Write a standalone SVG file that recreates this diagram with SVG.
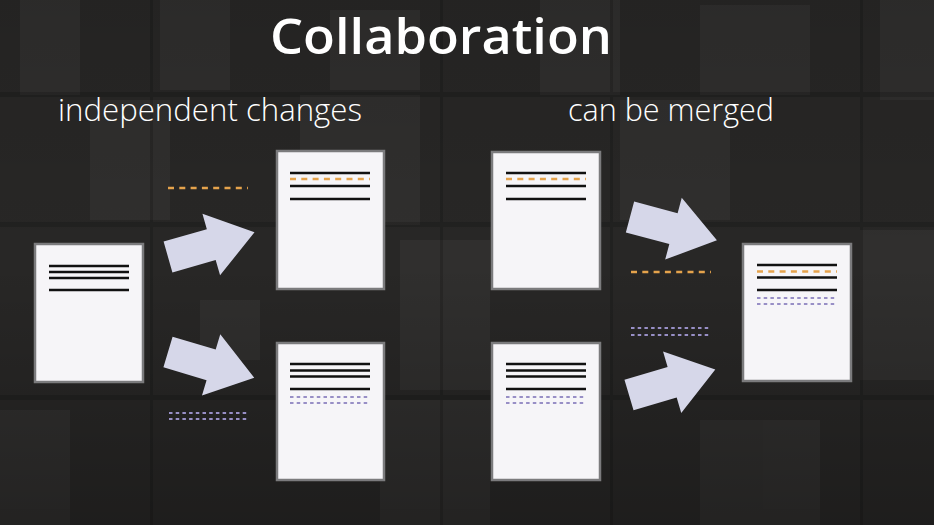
<svg xmlns="http://www.w3.org/2000/svg" width="934" height="525" viewBox="0 0 934 525">
<style>
.doc{fill:#f6f5f8;stroke:#7b7b7d;stroke-width:2.5}
.ln{stroke:#111;stroke-width:2.5}
.or{stroke:#e5a34c;stroke-width:2.5;stroke-dasharray:6 5.3}
.pu{stroke:#988fc6;stroke-width:2.2;stroke-dasharray:3.5 3.2}
.arr{fill:#d6d7e9}
.bk{fill:#fff}
.dk{fill:#000}
text{fill:#fff}
</style>
<defs>
<path id="arrow" class="arr" d="M0,-16 L45,-16 L45,-32 L90,0 L45,32 L45,16 L0,16 Z"/>
<linearGradient id="vg" x1="0" y1="0" x2="0" y2="1">
<stop offset="0" stop-color="#000" stop-opacity="0.1"/>
<stop offset="0.5" stop-color="#000" stop-opacity="0"/>
<stop offset="1" stop-color="#000" stop-opacity="0.25"/>
</linearGradient>
</defs>
<g id="background">
<rect width="934" height="525" fill="#282726"/>
<g opacity="0.035">
<rect class="bk" x="20" y="0" width="60" height="95"/>
<rect class="bk" x="160" y="0" width="70" height="90"/>
<rect class="bk" x="330" y="10" width="90" height="80"/>
<rect class="bk" x="540" y="0" width="80" height="95"/>
<rect class="bk" x="700" y="5" width="110" height="90"/>
<rect class="bk" x="880" y="0" width="54" height="100"/>
<rect class="bk" x="90" y="100" width="80" height="120"/>
<rect class="bk" x="300" y="95" width="120" height="130"/>
<rect class="bk" x="620" y="100" width="110" height="120"/>
<rect class="bk" x="400" y="240" width="90" height="150"/>
<rect class="bk" x="860" y="230" width="74" height="150"/>
<rect class="bk" x="0" y="410" width="70" height="115"/>
<rect class="bk" x="380" y="400" width="110" height="125"/>
<rect class="bk" x="700" y="420" width="120" height="105"/>
<rect class="bk" x="200" y="300" width="60" height="60"/>
</g>
<g opacity="0.15">
<rect class="dk" x="0" y="92" width="934" height="5"/>
<rect class="dk" x="0" y="222" width="934" height="5"/>
<rect class="dk" x="0" y="395" width="934" height="5"/>
<rect class="dk" x="150" y="0" width="3" height="525"/>
<rect class="dk" x="440" y="0" width="3" height="525"/>
<rect class="dk" x="610" y="0" width="3" height="525"/>
<rect class="dk" x="860" y="0" width="3" height="525"/>
</g>
<rect width="934" height="525" fill="url(#vg)"/>
</g>
<g id="titles" font-family="'Open Sans', 'Noto Sans', sans-serif">
<text x="441" y="54" font-size="48" font-weight="600" text-anchor="middle" textLength="342" lengthAdjust="spacingAndGlyphs">Collaboration</text>
<text x="58" y="121" font-size="31" font-weight="300" textLength="304" lengthAdjust="spacingAndGlyphs">independent changes</text>
<text x="568" y="121" font-size="31" font-weight="300" textLength="206" lengthAdjust="spacingAndGlyphs">can be merged</text>
</g>
<g id="connectors">
<use href="#arrow" transform="translate(168,257) rotate(-16)"/>
<use href="#arrow" transform="translate(168,352) rotate(16.6)"/>
<use href="#arrow" transform="translate(630,217) rotate(15)"/>
<use href="#arrow" transform="translate(629,395) rotate(-16.5)"/>
</g>
<g id="change-a">
<line class="or" x1="168" y1="188" x2="248" y2="188"/>
</g>
<g id="change-b">
<line class="pu" x1="169" y1="413" x2="247" y2="413"/>
<line class="pu" x1="169" y1="419" x2="247" y2="419"/>
</g>
<g id="change-a-merge">
<line class="or" x1="631" y1="272" x2="711" y2="272"/>
</g>
<g id="change-b-merge">
<line class="pu" x1="631" y1="328" x2="710" y2="328"/>
<line class="pu" x1="631" y1="335" x2="710" y2="335"/>
</g>
<g id="doc-original">
<rect class="doc" x="35" y="244" width="108" height="138"/>
<line class="ln" x1="49" y1="266" x2="129" y2="266"/>
<line class="ln" x1="49" y1="272" x2="129" y2="272"/>
<line class="ln" x1="49" y1="278" x2="129" y2="278"/>
<line class="ln" x1="49" y1="290" x2="129" y2="290"/>
</g>
<g id="doc-top-a">
<rect class="doc" x="277" y="151" width="107" height="138"/>
<line class="ln" x1="290" y1="173" x2="370" y2="173"/>
<line class="or" x1="290" y1="179" x2="370" y2="179"/>
<line class="ln" x1="290" y1="186" x2="370" y2="186"/>
<line class="ln" x1="290" y1="199" x2="370" y2="199"/>
</g>
<g id="doc-bottom-a">
<rect class="doc" x="277" y="343" width="107" height="137"/>
<line class="ln" x1="290" y1="364" x2="370" y2="364"/>
<line class="ln" x1="290" y1="370.5" x2="370" y2="370.5"/>
<line class="ln" x1="290" y1="376.5" x2="370" y2="376.5"/>
<line class="ln" x1="290" y1="389" x2="370" y2="389"/>
<line class="pu" x1="290" y1="397" x2="370" y2="397"/>
<line class="pu" x1="290" y1="403" x2="370" y2="403"/>
</g>
<g id="doc-top-b">
<rect class="doc" x="492" y="152" width="108" height="137"/>
<line class="ln" x1="506" y1="173" x2="586" y2="173"/>
<line class="or" x1="506" y1="179" x2="586" y2="179"/>
<line class="ln" x1="506" y1="186" x2="586" y2="186"/>
<line class="ln" x1="506" y1="199" x2="586" y2="199"/>
</g>
<g id="doc-bottom-b">
<rect class="doc" x="492" y="343" width="108" height="137"/>
<line class="ln" x1="506" y1="364" x2="586" y2="364"/>
<line class="ln" x1="506" y1="370.5" x2="586" y2="370.5"/>
<line class="ln" x1="506" y1="376.5" x2="586" y2="376.5"/>
<line class="ln" x1="506" y1="389" x2="586" y2="389"/>
<line class="pu" x1="506" y1="397" x2="586" y2="397"/>
<line class="pu" x1="506" y1="403" x2="586" y2="403"/>
</g>
<g id="doc-merged">
<rect class="doc" x="743" y="244" width="108" height="137"/>
<line class="ln" x1="757" y1="265" x2="837" y2="265"/>
<line class="or" x1="757" y1="271.5" x2="837" y2="271.5"/>
<line class="ln" x1="757" y1="277.5" x2="837" y2="277.5"/>
<line class="ln" x1="757" y1="290" x2="837" y2="290"/>
<line class="pu" x1="757" y1="298" x2="837" y2="298"/>
<line class="pu" x1="757" y1="304" x2="837" y2="304"/>
</g>
</svg>
